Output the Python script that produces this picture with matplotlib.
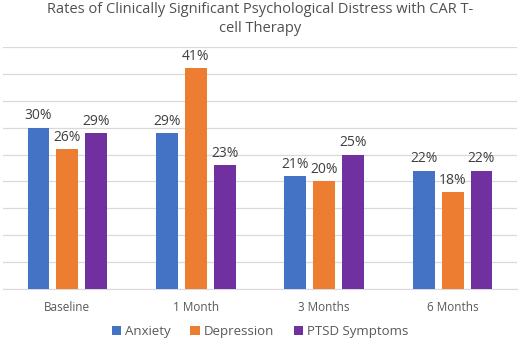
import matplotlib.pyplot as plt
import numpy as np

plt.rcParams["font.family"] = ["Open Sans", "DejaVu Sans"]

categories = ["Baseline", "1 Month", "3 Months", "6 Months"]
anxiety = [30, 29, 21, 22]
depression = [26, 41, 20, 18]
ptsd = [29, 23, 25, 22]
series_names = ["Anxiety", "Depression", "PTSD Symptoms"]
colors = ["#4472C4", "#ED7D31", "#7030A0"]

fig = plt.figure(figsize=(5.2, 3.45), dpi=100)
ax = fig.add_axes([0.006, 0.162, 0.988, 0.702])

x = np.arange(len(categories))
width = 0.17
offsets = [-0.225, 0, 0.225]
for vals, name, col, off in zip([anxiety, depression, ptsd], series_names, colors, offsets):
    bars = ax.bar(x + off, vals, width, color=col, label=name, zorder=3)
    for b, v in zip(bars, vals):
        ax.text(b.get_x() + b.get_width() / 2, v + 0.8, f"{v}%",
                ha="center", va="bottom", fontsize=10, color="#404040")

ax.set_xlim(-0.5, len(categories) - 0.5)
ax.set_ylim(0, 45)
ax.set_yticks(np.arange(0, 46, 5))
ax.yaxis.grid(True, color="#D9D9D9", linewidth=0.9, zorder=0)
ax.tick_params(axis="y", left=False, labelleft=False)
ax.tick_params(axis="x", bottom=False, labelsize=8.5, labelcolor="#595959", pad=5)
ax.set_xticks(x)
ax.set_xticklabels(categories)
for s in ["left", "right", "top"]:
    ax.spines[s].set_visible(False)
ax.spines["bottom"].set_color("#D9D9D9")

fig.suptitle("Rates of Clinically Significant Psychological Distress with CAR T-\ncell Therapy",
             y=0.995, fontsize=10.5, color="#505050", linespacing=1.35)

fig.legend(loc="lower center", bbox_to_anchor=(0.5, -0.015), ncol=3, frameon=False,
           fontsize=9.5, labelcolor="#595959", handlelength=0.7, handleheight=0.7,
           handletextpad=0.3, columnspacing=1.5)

fig.savefig("out.png", dpi=100)
